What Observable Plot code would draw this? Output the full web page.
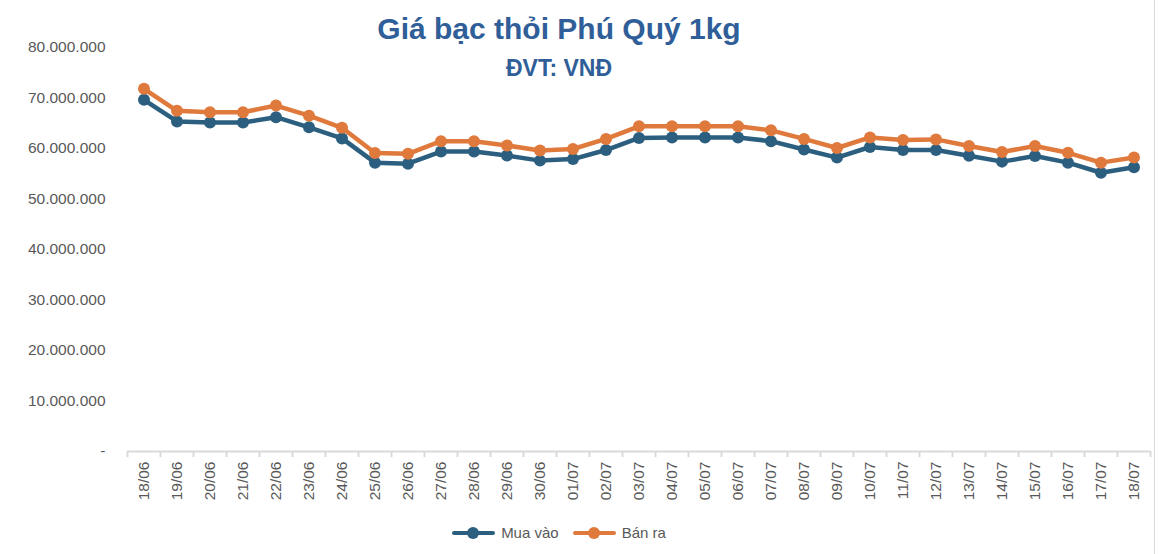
<!DOCTYPE html>
<html>
<head>
<meta charset="utf-8">
<script src="https://cdn.jsdelivr.net/npm/d3@7"></script>
<script src="https://cdn.jsdelivr.net/npm/@observablehq/plot@0.6"></script>
<style>
  html, body { margin: 0; padding: 0; background: #fff; }
  #wrap { position: relative; width: 1158px; height: 554px; overflow: hidden; font-family: "Liberation Sans", Arial, sans-serif; }
  #title { position: absolute; left: 0; width: 1118px; top: 14px; text-align: center; color: #2F5E98; font-weight: bold; font-size: 30px; line-height: 30px; font-family: "Liberation Sans Narrow", "Liberation Sans", sans-serif; }
  #subtitle { position: absolute; left: 0; width: 1118px; top: 57px; text-align: center; color: #2F5E98; font-weight: bold; font-size: 23px; line-height: 23px; font-family: "Liberation Sans Narrow", "Liberation Sans", sans-serif; }
  #legend { position: absolute; top: 524px; left: 0; width: 1118px; display: flex; justify-content: center; gap: 14px; font-size: 15px; color: #595959; }
  .item { display: flex; align-items: center; gap: 6px; }
  .sw { position: relative; width: 43px; height: 12px; }
  .sw .ln { position: absolute; left: 0; right: 0; top: 4px; height: 4px; border-radius: 2px; }
  .sw .dt { position: absolute; left: 15px; top: 0; width: 12px; height: 12px; border-radius: 6px; }
  #edge { position: absolute; left: 1154px; top: 0; width: 1px; height: 554px; background: #d9d9d9; }
</style>
</head>
<body>
<div id="wrap">
  <div id="chart"></div>
  <div id="title">Giá bạc thỏi Phú Quý 1kg</div>
  <div id="subtitle">ĐVT: VNĐ</div>
  <div id="legend"></div>
  <div id="edge"></div>
</div>
<script>
const dates = ["18/06","19/06","20/06","21/06","22/06","23/06","24/06","25/06","26/06","27/06","28/06","29/06","30/06",
  "01/07","02/07","03/07","04/07","05/07","06/07","07/07","08/07","09/07","10/07","11/07","12/07","13/07","14/07","15/07","16/07","17/07","18/07"];
const muaVao = [69640000,65350000,65150000,65150000,66200000,64200000,62000000,57200000,57000000,59400000,59400000,58600000,57600000,
  57900000,59700000,62100000,62200000,62200000,62200000,61450000,59800000,58200000,60300000,59700000,59700000,58550000,57400000,58500000,57200000,55200000,56300000];
const banRa = [71820000,67470000,67190000,67190000,68500000,66500000,64100000,59100000,58950000,61450000,61450000,60600000,59600000,
  59900000,61900000,64400000,64400000,64400000,64400000,63600000,61900000,60100000,62200000,61700000,61800000,60500000,59300000,60500000,59150000,57200000,58200000];
const yTicks = [0,10000000,20000000,30000000,40000000,50000000,60000000,70000000,80000000];
const seriesNames = ["Mua vào","Bán ra"];
const colors = ["#2C5F7F","#E07A3C"];

const rows = [];
dates.forEach((d,i) => {
  rows.push({i, date: d, value: muaVao[i], s: seriesNames[0]});
  rows.push({i, date: d, value: banRa[i], s: seriesNames[1]});
});
const idx = dates.map((d,i) => i);
const bounds = [...idx.map(i => i - 0.5), dates.length - 0.5];
const fmt = v => v === 0 ? "-" : d3.format(",")(v).replace(/,/g, ".");

const chart = Plot.plot({
  width: 1158,
  height: 554,
  marginTop: 47,
  marginBottom: 103,
  marginLeft: 127,
  marginRight: 8,
  style: {fontFamily: "'Liberation Sans', Arial, sans-serif", fontSize: "15.5px", color: "#595959", background: "#fff"},
  x: {type: "linear", domain: [-0.5, dates.length - 0.5]},
  y: {domain: [0, 80000000]},
  color: {domain: seriesNames, range: colors},
  marks: [
    Plot.axisY({ticks: yTicks, tickFormat: fmt, tickSize: 0, tickPadding: 22, label: null, fill: "#595959", fontSize: 15.5}),
    Plot.axisX({ticks: idx, tickFormat: i => dates[i], tickSize: 0, tickPadding: 10, tickRotate: -90, label: null, fill: "#595959", fontSize: 15.5}),
    Plot.ruleY([0], {stroke: "#d9d9d9", strokeWidth: 2}),
    Plot.ruleX(bounds, {x: d => d, y1: 0, y2: 0, insetBottom: -6, stroke: "#d9d9d9", strokeWidth: 2}),
    Plot.line(rows, {x: "i", y: "value", z: "s", stroke: "s", strokeWidth: 4.5}),
    Plot.dot(rows, {x: "i", y: "value", fill: "s", r: 6, stroke: "none"})
  ]
});
document.getElementById("chart").appendChild(chart);

const legend = document.getElementById("legend");
seriesNames.forEach((n, k) => {
  const it = document.createElement("div");
  it.className = "item";
  it.innerHTML = `<div class="sw"><div class="ln" style="background:${colors[k]}"></div><div class="dt" style="background:${colors[k]}"></div></div><span>${n}</span>`;
  legend.appendChild(it);
});
</script>
</body>
</html>
